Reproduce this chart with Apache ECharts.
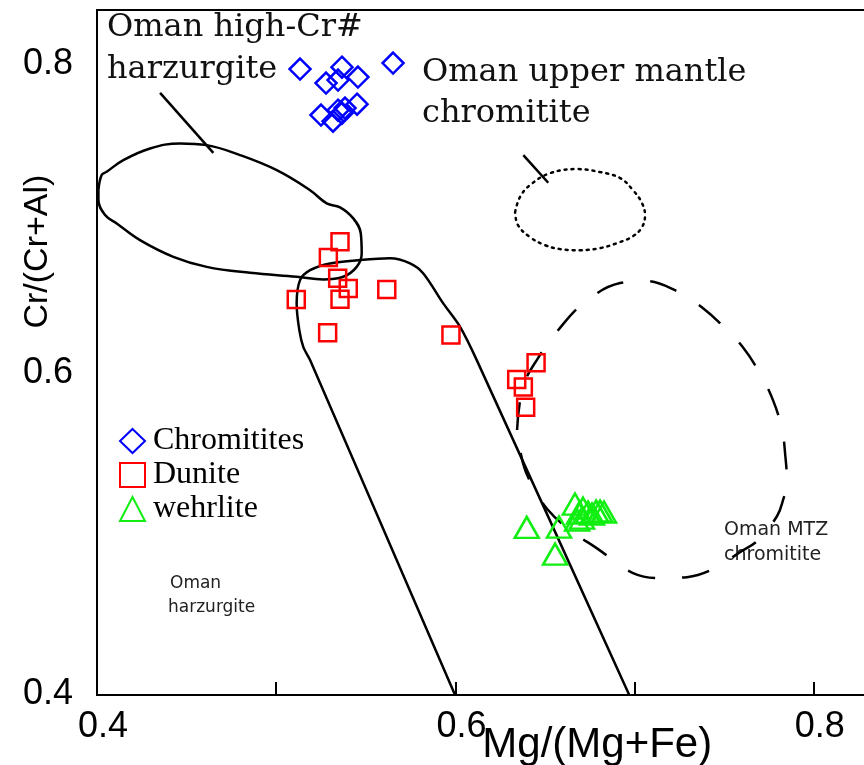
<!DOCTYPE html>
<html>
<head>
<meta charset="utf-8">
<script src="https://cdn.jsdelivr.net/npm/echarts@6/dist/echarts.min.js"></script>
<style>html,body{margin:0;padding:0;background:#fff}#c{width:864px;height:765px}</style>
</head>
<body>
<div id="c"></div>
<script>
// ---- data ----
const xTickLabels = [0.4, 0.6, 0.8];
const yTickLabels = [0.4, 0.6, 0.8];

const chromitites = [
  [0.5133,0.7975],[0.5367,0.7987],[0.5278,0.7886],[0.5345,0.7905],[0.5456,0.7924],[0.5652,0.8013],
  [0.5250,0.7683],[0.5317,0.7644],[0.5345,0.7714],[0.5384,0.7727],[0.5451,0.7752],[0.5367,0.7695]
];
const dunite = [
  [0.5356,0.6878],[0.5291,0.6778],[0.5343,0.6646],[0.5402,0.6582],[0.5356,0.6514],[0.5112,0.6512],
  [0.5617,0.6576],[0.5287,0.6300],[0.5975,0.6286],[0.6450,0.6110],[0.6342,0.6004],[0.6379,0.5957],[0.6392,0.5827]
];
const wehrlite = [
  [0.6398,0.5065],[0.6578,0.5067],[0.6556,0.4895],[0.6667,0.5213],[0.6690,0.5156],[0.6712,0.5187],
  [0.6679,0.5111],[0.6740,0.5162],[0.6762,0.5149],[0.6785,0.5168],[0.6807,0.5168],[0.6829,0.5162],[0.6706,0.5124]
];

// field outlines
const highCrHarzField = [
  [0.4008,0.7206],[0.4026,0.7302],[0.4054,0.7323],[0.4147,0.7397],[0.4296,0.7471],[0.4463,0.7503],
  [0.4612,0.7492],[0.4798,0.7429],[0.5003,0.7333],[0.5189,0.7206],[0.5282,0.7122],[0.5356,0.7097],
  [0.5430,0.7027],[0.5472,0.6931],[0.5477,0.6804],[0.5449,0.6719],[0.5374,0.6656],[0.5263,0.6639],
  [0.5114,0.6656],[0.4854,0.6681],[0.4612,0.6719],[0.4426,0.6783],[0.4240,0.6889],[0.4110,0.6995],
  [0.4045,0.7048],[0.4008,0.7143],[0.4008,0.7206]
];
const highCrLeader = [[0.4352,0.7824],[0.4649,0.7443]];

const harzField = [
  [0.5998,0.4000],[0.5189,0.6127],[0.5151,0.6211],[0.5129,0.6317],[0.5114,0.6487],[0.5133,0.6635],
  [0.5189,0.6698],[0.5300,0.6741],[0.5468,0.6762],[0.5635,0.6773],[0.5747,0.6741],[0.5821,0.6677],
  [0.5932,0.6487],[0.6026,0.6338],[0.6119,0.6127],[0.6970,0.4000]
];

const upperMantleField = [
  [0.6333,0.7067],[0.6360,0.7162],[0.6416,0.7238],[0.6528,0.7314],[0.6679,0.7340],[0.6807,0.7321],
  [0.6919,0.7283],[0.6991,0.7206],[0.7041,0.7124],[0.7058,0.7048],[0.7041,0.6971],[0.6991,0.6914],
  [0.6902,0.6870],[0.6807,0.6838],[0.6695,0.6825],[0.6584,0.6832],[0.6500,0.6857],[0.6416,0.6908],
  [0.6349,0.6984],[0.6333,0.7067]
];
const upperMantleLeader = [[0.6379,0.7429],[0.6518,0.7253]];

const mtzField = [
  [0.6344,0.5683],[0.6377,0.5956],[0.6461,0.6140],[0.6573,0.6317],[0.6723,0.6495],[0.6919,0.6616],
  [0.7058,0.6629],[0.7225,0.6571],[0.7382,0.6457],[0.7516,0.6317],[0.7599,0.6216],[0.7689,0.6063],
  [0.7772,0.5873],[0.7823,0.5683],[0.7839,0.5543],[0.7850,0.5346],[0.7828,0.5238],[0.7795,0.5137],
  [0.7689,0.4984],[0.7588,0.4908],[0.7449,0.4806],[0.7292,0.4749],[0.7158,0.4743],[0.6991,0.4775],
  [0.6796,0.4927],[0.6640,0.5048],[0.6517,0.5175],[0.6422,0.5346],[0.6377,0.5473],[0.6344,0.5683]
];

const seriesNames = ['Chromitites', 'Dunite', 'wehrlite'];

// ---- chart ----
const chart = echarts.init(document.getElementById('c'), null, {renderer: 'canvas'});
const near = (v, list) => list.some(t => Math.abs(v - t) < 1e-6);
const outline = (data, type, smooth) => ({
  type: 'line', data: data, showSymbol: false, symbol: 'none', smooth: smooth, silent: true,
  lineStyle: {color: '#000', width: 2.5, type: type}, z: 2, legendHoverLink: false
});
const serifFont = '"DejaVu Serif", serif';
const sansFont = '"DejaVu Sans", sans-serif';
const tickFont = {fontFamily: '"Liberation Sans", sans-serif', fontSize: 36, color: '#000'};

chart.setOption({
  animation: false,
  backgroundColor: '#fff',
  grid: {left: 97, top: 10, width: 770.6, height: 685.1, show: true, borderColor: '#000', borderWidth: 2,
         backgroundColor: 'transparent', containLabel: false, outerBoundsMode: 'none'},
  xAxis: {
    type: 'value', min: 0.4, max: 0.83, interval: 0.1,
    axisLine: {show: true, onZero: false, lineStyle: {color: '#000', width: 2}},
    axisTick: {show: true, inside: true, length: 13, lineStyle: {color: '#000', width: 2}},
    splitLine: {show: false},
    axisLabel: Object.assign({
      formatter: v => near(v, xTickLabels) ? v.toFixed(1) : '',
      margin: 14, padding: [0, 0, 0, 12]
    }, tickFont),
    name: 'Mg/(Mg+Fe)', nameLocation: 'middle', nameGap: 29, nameMoveOverlap: false,
    nameTextStyle: {fontFamily: '"Liberation Sans", sans-serif', fontSize: 42, color: '#000', align: 'left'}
  },
  yAxis: {
    type: 'value', min: 0.4, max: 0.835, interval: 0.1,
    axisLine: {show: true, onZero: false, lineStyle: {color: '#000', width: 2}},
    axisTick: {show: false},
    splitLine: {show: false},
    axisLabel: Object.assign({
      formatter: v => {
        if (!near(v, yTickLabels)) return '';
        const s = v.toFixed(1);
        return near(v, [0.6]) ? '{m|' + s + '}' : '{n|' + s + '}';
      },
      margin: 24,
      rich: {
        m: Object.assign({padding: [0, 0, 14, 0]}, tickFont),
        n: Object.assign({padding: [0, 0, 2, 0]}, tickFont)
      }
    }, tickFont),
    name: 'Cr/(Cr+Al)', nameLocation: 'middle', nameGap: 42, nameMoveOverlap: false,
    nameTextStyle: {fontFamily: '"Liberation Sans", sans-serif', fontSize: 34, color: '#000', align: 'left', padding: [0, 0, 0, 24]}
  },
  legend: {
    orient: 'vertical', left: 114, top: 420, itemWidth: 25, itemHeight: 24, itemGap: 2,
    data: seriesNames, selectedMode: false,
    textStyle: {fontFamily: '"Liberation Serif", serif', fontSize: 32, color: '#000', padding: [0, 0, 0, 3]}
  },
  graphic: [
    {type: 'text', x: 107, y: 28, style: {text: 'Oman high-Cr#', font: '32px ' + serifFont, fill: '#111', align: 'left', verticalAlign: 'middle'}},
    {type: 'text', x: 107, y: 70, style: {text: 'harzurgite', font: '32px ' + serifFont, fill: '#111', align: 'left', verticalAlign: 'middle'}},
    {type: 'text', x: 422, y: 73, style: {text: 'Oman upper mantle', font: '32px ' + serifFont, fill: '#111', align: 'left', verticalAlign: 'middle'}},
    {type: 'text', x: 422, y: 114, style: {text: 'chromitite', font: '32px ' + serifFont, fill: '#111', align: 'left', verticalAlign: 'middle'}},
    {type: 'text', x: 170, y: 584, style: {text: 'Oman', font: '17px ' + sansFont, fill: '#222', align: 'left', verticalAlign: 'middle'}},
    {type: 'text', x: 168, y: 608, style: {text: 'harzurgite', font: '17px ' + sansFont, fill: '#222', align: 'left', verticalAlign: 'middle'}},
    {type: 'text', x: 724, y: 530, style: {text: 'Oman MTZ', font: '19px ' + sansFont, fill: '#222', align: 'left', verticalAlign: 'middle'}},
    {type: 'text', x: 724, y: 555, style: {text: 'chromitite', font: '19px ' + sansFont, fill: '#222', align: 'left', verticalAlign: 'middle'}}
  ],
  series: [
    outline(highCrHarzField, 'solid', 0.4),
    outline(highCrLeader, 'solid', false),
    outline(harzField, 'solid', 0.3),
    Object.assign(outline(upperMantleField, [2, 5], 0.4), {lineStyle: {color: '#000', width: 2.5, type: [2, 5], cap: 'round'}}),
    outline(upperMantleLeader, 'solid', false),
    outline(mtzField, [28, 27], 0.4),
    {
      name: seriesNames[0], type: 'scatter', data: chromitites, symbol: 'diamond', symbolSize: 21, z: 5,
      itemStyle: {color: 'rgba(0,0,0,0)', borderColor: '#0000ff', borderWidth: 2.5, opacity: 1}
    },
    {
      name: seriesNames[1], type: 'scatter', data: dunite, symbol: 'rect', symbolSize: 17, z: 5,
      itemStyle: {color: 'rgba(0,0,0,0)', borderColor: '#ff0000', borderWidth: 2.5, opacity: 1}
    },
    {
      name: seriesNames[2], type: 'scatter', data: wehrlite, symbol: 'triangle', symbolSize: [24, 21], z: 5,
      itemStyle: {color: 'rgba(0,0,0,0)', borderColor: '#11ee11', borderWidth: 2.5, opacity: 1}
    }
  ]
});
</script>
</body>
</html>
